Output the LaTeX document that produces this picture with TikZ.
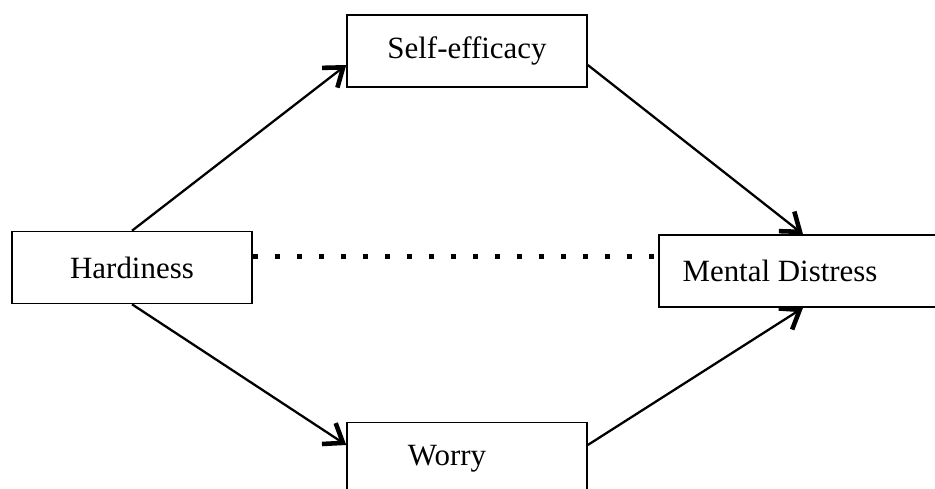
\documentclass[tikz,border=0pt]{standalone}
\usepackage{fontspec}
\setmainfont{Liberation Serif}
\usetikzlibrary{arrows.meta}

\begin{document}
\begin{tikzpicture}[x=0.02cm, y=-0.02cm,
    box/.style={draw, line width=0.9pt, minimum height=1.44cm, inner sep=0pt,
      font=\fontsize{17.6}{21}\selectfont},
    arr/.style={-{Straight Barb[length=3.4mm,width=5mm,line width=2.6pt]}, line width=1.3pt},
    dotline/.style={line width=0.1cm, dash pattern=on 0.1cm off 0.34cm}]
    \useasboundingbox (0,0) rectangle (935,489);
    \clip (0,0) rectangle (935,489);

    \node[box, minimum width=4.8cm] (hard) at (132,267.5) {Hardiness};
    \node[box, minimum width=4.8cm] (self) at (467,51) {Self-efficacy};
    \node[box, minimum width=4.8cm] (worry) at (467,458.5) {Worry\kern0.8cm};
    \node[box, minimum width=5.76cm] (ment) at (803,271) {Mental Distress\kern0.92cm};

    \draw[arr] (hard.north) -- ([yshift=-0.28cm]self.west);
    \draw[arr] ([yshift=-0.28cm]self.east) -- (ment.north);
    \draw[arr] (hard.south) -- ([yshift=0.27cm]worry.west);
    \draw[arr] ([yshift=0.27cm]worry.east) -- (ment.south);

    \coordinate (dl) at ([yshift=0.23cm]hard.east);
    \draw[dotline] (dl) -- (dl -| ment.west);
\end{tikzpicture}
\end{document}
